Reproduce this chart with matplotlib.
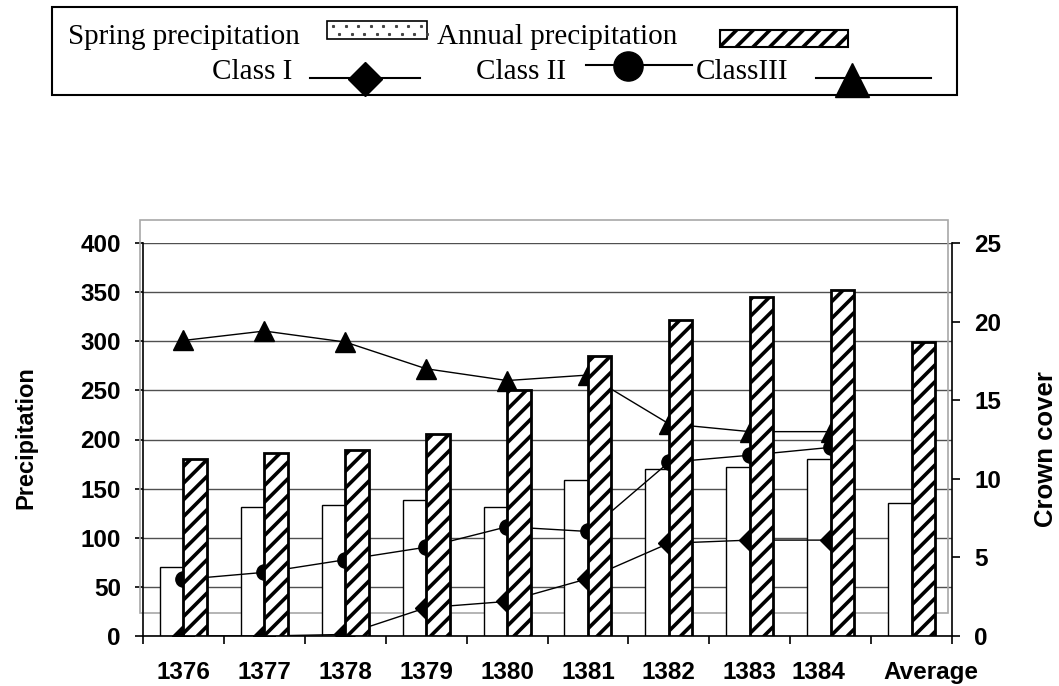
import matplotlib
matplotlib.use("Agg")
import matplotlib.pyplot as plt
from matplotlib.patches import Rectangle
from matplotlib.lines import Line2D
from matplotlib.transforms import ScaledTranslation
import numpy as np

# ---------------- data ----------------
categories = ["1376", "1377", "1378", "1379", "1380", "1381", "1382", "1383", "1384", "Average"]
spring_precip = [70, 131, 133, 138, 131, 159, 170, 172, 180, 135]
annual_precip = [180, 186, 189, 206, 250, 285, 322, 345, 352, 299]
years = ["1376", "1377", "1378", "1379", "1380", "1381", "1382", "1383", "1384"]
class_1 = [0.0, 0.0, 0.1, 1.8, 2.2, 3.65, 5.9, 6.1, 6.1]
class_2 = [3.6, 4.05, 4.85, 5.65, 6.95, 6.65, 11.05, 11.5, 12.0]
class_3 = [18.8, 19.4, 18.7, 17.0, 16.25, 16.6, 13.5, 13.0, 13.0]
left_ticks = [0, 50, 100, 150, 200, 250, 300, 350, 400]
right_ticks = [0, 5, 10, 15, 20, 25]

plt.rcParams['hatch.linewidth'] = 2.6
W, H = 1059, 686
fig = plt.figure(figsize=(W / 100, H / 100), dpi=100)

L, R, T, B = 143, 952, 243, 636
pos = [L / W, (H - B) / H, (R - L) / W, (B - T) / H]

ax = fig.add_axes(pos)
ax2 = fig.add_axes(pos, sharex=ax)
ax3 = fig.add_axes(pos, sharex=ax, sharey=ax)
ax.set_zorder(1)
ax2.set_zorder(2)
ax3.set_zorder(3)
for a in (ax2, ax3):
    a.patch.set_visible(False)

x = np.arange(len(categories))
bw = 0.29

# base axes: grid + spring bars
ax.set_xlim(-0.5, len(categories) - 0.5)
ax.set_ylim(0, 400)
ax.set_yticks(left_ticks)
ax.yaxis.grid(True, color='#505050', lw=1.0, zorder=0.5)
ax.set_axisbelow(True)
ax.bar(x - bw / 2, spring_precip, width=bw, color='white', edgecolor='black', lw=1.0, zorder=2)

for s in ('top', 'right'):
    ax.spines[s].set_visible(False)
ax.spines['left'].set_linewidth(1.2)
ax.spines['bottom'].set_linewidth(1.2)

ax.set_xticks(x)
ax.set_xticklabels(categories, fontsize=17.5, fontweight='bold', family='Liberation Sans')
ax.tick_params(axis='x', which='major', length=0, pad=18)
ax.set_xticks(np.arange(-0.5, len(categories) - 0.4, 1.0), minor=True)
ax.tick_params(axis='x', which='minor', length=6, width=1.2, direction='out')
ax.tick_params(axis='y', length=6, width=1.2, direction='out', pad=10, labelsize=17.5)
for lab in ax.get_yticklabels():
    lab.set_fontweight('bold'); lab.set_family('Liberation Sans')
xl = ax.get_xticklabels()
xl[8].set_transform(xl[8].get_transform() + ScaledTranslation(-12 / 100, 0, fig.dpi_scale_trans))
xl[9].set_transform(xl[9].get_transform() + ScaledTranslation(19 / 100, 0, fig.dpi_scale_trans))

# gray outer frame (behind bars)
frame = Rectangle((140 / W, (H - 613) / H), (948 - 140) / W, (613 - 220) / H,
                  transform=fig.transFigure, fill=False, edgecolor='#a8a8a8', lw=1.2,
                  zorder=0.6, clip_on=False)
ax.add_patch(frame)

# right axis: lines
xs = np.arange(len(years))
ax2.set_ylim(0, 25)
ax2.set_yticks(right_ticks)
ax2.plot(xs, class_1, color='black', lw=1.0, marker='D', ms=11, mfc='black', mec='black')
ax2.plot(xs, class_2, color='black', lw=1.0, marker='o', ms=11, mfc='black', mec='black')
ax2.plot(xs, class_3, color='black', lw=1.0, marker='^', ms=14, mfc='black', mec='black')
ax2.yaxis.tick_right()
for s in ('top', 'left', 'bottom'):
    ax2.spines[s].set_visible(False)
ax2.spines['right'].set_linewidth(1.2)
ax2.tick_params(axis='y', length=6, width=1.2, direction='out', pad=10, labelsize=17.5)
ax2.tick_params(axis='x', which='both', length=0, labelbottom=False)
for lab in ax2.get_yticklabels():
    lab.set_fontweight('bold'); lab.set_family('Liberation Sans')

# top axes: annual bars
ax3.bar(x + bw / 2, annual_precip, width=bw, color='white', edgecolor='black', lw=2.0, hatch='//')
ax3.axis('off')

# axis titles
fig.text(26 / W, 1 - 438 / H, 'Precipitation', rotation=90, ha='center', va='center',
         fontsize=17, fontweight='bold', family='Liberation Sans')
fig.text(1046 / W, 1 - 449 / H, 'Crown cover', rotation=90, ha='center', va='center',
         fontsize=18.5, fontweight='bold', family='Liberation Sans')

# ---------------- legend (drawn in pixel space) ----------------
lax = fig.add_axes([0, 0, 1, 1])
lax.set_xlim(0, W)
lax.set_ylim(H, 0)
lax.axis('off')
lax.set_zorder(5)
lax.add_patch(Rectangle((52, 7), 957 - 52, 95 - 7, fill=False, edgecolor='black', lw=1.5))
tkw = dict(fontsize=21, family='Liberation Serif', va='baseline', ha='left')
lax.text(68, 44, 'Spring precipitation', **tkw)
dot_box = Rectangle((327, 21), 100, 18, facecolor='white', edgecolor='black', lw=1.2)
lax.add_patch(dot_box)
dx = np.arange(333, 426, 12.5)
lax.plot(dx, np.full(len(dx), 26), ls='none', marker='s', ms=1.2, color='#444444')
lax.plot(dx + 6, np.full(len(dx), 34), ls='none', marker='s', ms=1.2, color='#444444')
lax.text(437, 44, 'Annual precipitation', **tkw)
lax.add_patch(Rectangle((720, 30), 128, 17, facecolor='white', edgecolor='black', lw=1.5, hatch='//'))
lax.text(212, 79, 'Class I', **tkw)
lax.add_line(Line2D([310, 420], [78, 78], color='black', lw=1.5))
lax.add_line(Line2D([365], [79], marker='D', ms=17, color='black', lw=0))
lax.text(476, 79, 'Class II', **tkw)
lax.add_line(Line2D([586, 692], [65, 65], color='black', lw=1.5))
lax.add_line(Line2D([628], [66], marker='o', ms=21, color='black', lw=0))
lax.text(696, 79, 'ClassIII', **tkw)
lax.add_line(Line2D([816, 931], [78, 78], color='black', lw=1.5))
lax.add_line(Line2D([852], [80], marker='^', ms=24, color='black', lw=0))

fig.savefig('out.png', dpi=100)
